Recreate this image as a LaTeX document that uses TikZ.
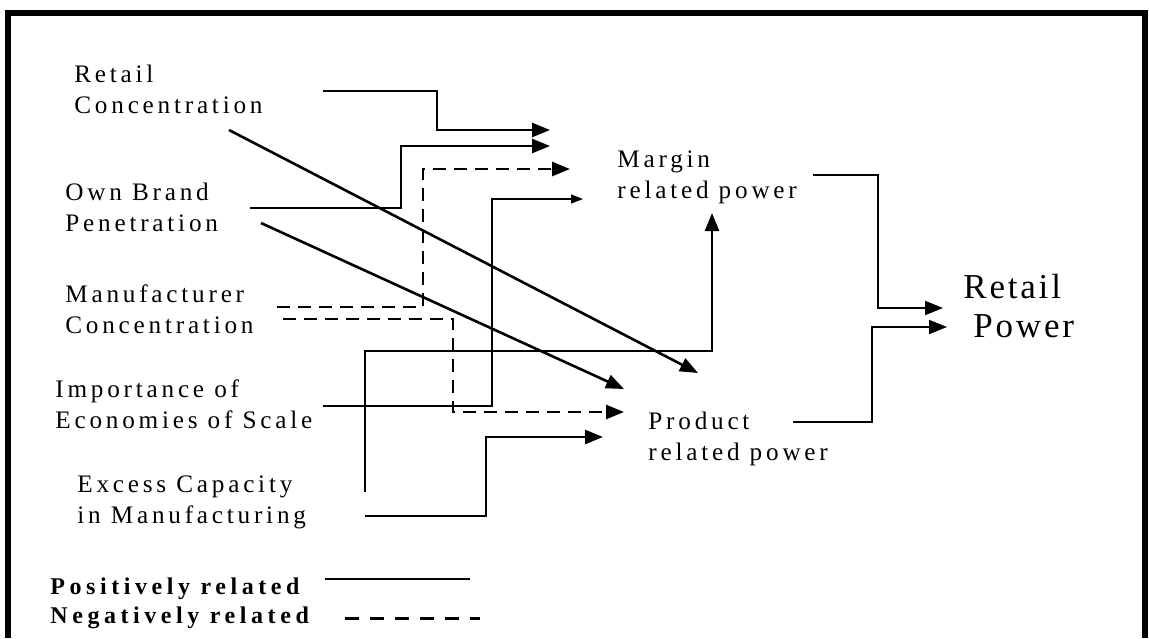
\documentclass[tikz,border=0pt]{standalone}
\usepackage{fontspec}
\setmainfont{Liberation Serif}
\newfontfamily\lblfont[LetterSpace=15]{Liberation Serif}
\newfontfamily\keyfont[LetterSpace=19]{Liberation Serif}
\newfontfamily\bigfont[LetterSpace=8]{Liberation Serif}
\usetikzlibrary{arrows.meta}

\begin{document}
\begin{tikzpicture}[x=0.5pt,y=-0.5pt,
    lbl/.style={anchor=base west,inner sep=0pt,align=left,
      font=\lblfont\fontsize{12.6}{15.5}\selectfont},
    keylbl/.style={anchor=base west,inner sep=0pt,
      font=\keyfont\bfseries\fontsize{12}{14}\selectfont},
    posline/.style={line width=1.3pt,-{Triangle[length=9pt,width=7pt]}},
    negline/.style={posline,line width=1.4pt,dash pattern=on 6.5pt off 4pt},
    thinline/.style={line width=0.6pt,-{Triangle[length=6pt,width=4.5pt]}}]
  \useasboundingbox (0,0) rectangle (1149,638);
  % frame, open at the bottom
  \draw[line width=3pt] (8,638) -- (8,13) -- (1145,13) -- (1145,638);

  % factors (placed at the baseline of the last line)
  \node[lbl] (rcon) at (74,113) {Retail\\Concentration};
  \node[lbl] (obp) at (65,231) {Own Brand\\Penetration};
  \node[lbl] (mcon) at (65,333) {Manufacturer\\Concentration};
  \node[lbl] (ies) at (55,428) {Importance of\\Economies of Scale};
  \node[lbl] (ecm) at (77,523) {Excess Capacity\\in Manufacturing};
  % outcomes
  \node[lbl] (mrp) at (617,198) {Margin\\related power};
  \node[lbl] (prp) at (648,460) {Product\\related power};
  \node[lbl,font=\bigfont\fontsize{17.5}{19.5}\selectfont] (rp) at (963,337)
    {Retail\\\hspace*{5pt}Power};

  % free ends
  \coordinate (rcA) at (323,91);  \coordinate (rcB) at (550,130);
  \coordinate (rcC) at (229,130); \coordinate (rcD) at (698,373);
  \coordinate (obA) at (250,208); \coordinate (obB) at (550,146);
  \coordinate (obC) at (261,223); \coordinate (obD) at (624,389);
  \coordinate (mcA) at (277,307); \coordinate (mcB) at (570,169);
  \coordinate (mcC) at (283,319); \coordinate (mcD) at (624,412);
  \coordinate (isA) at (323,406); \coordinate (isB) at (583,199);
  \coordinate (ecA) at (365,492); \coordinate (ecB) at (712,213);
  \coordinate (ecC) at (365,516); \coordinate (ecD) at (603,437);
  \coordinate (mrA) at (813,175); \coordinate (rpA) at (943,308);
  \coordinate (prA) at (793,422); \coordinate (rpB) at (947,327);

  \draw[posline] (rcA) -- ++(114,0) |- (rcB);
  \draw[posline] (obA) -- ++(151,0) |- (obB);
  \draw[negline] (mcA) -- ++(146,0) |- (mcB);
  \draw[thinline] (isA) -- ++(169,0) |- (isB);
  \draw[posline] (rcC) -- (rcD);
  \draw[posline] (obC) -- (obD);
  \draw[negline] (mcC) -- ++(170,0) |- (mcD);
  \draw[posline] (ecA) -- ++(0,-141) -| (ecB);
  \draw[posline] (ecC) -- ++(121,0) |- (ecD);
  \draw[posline,line width=1.1pt] (mrA) -- ++(65,0) |- (rpA);
  \draw[posline,line width=1.1pt] (prA) -- ++(79,0) |- (rpB);

  % key
  \node[keylbl] (posleg) at (50,594) {Positively related};
  \node[keylbl] (negleg) at (50,623) {Negatively related};
  \draw[line width=1.3pt] (325,579) -- (470,579);
  \draw[line width=1.5pt,dash pattern=on 7pt off 5.5pt] (345,618) -- (480,618);
\end{tikzpicture}
\end{document}
